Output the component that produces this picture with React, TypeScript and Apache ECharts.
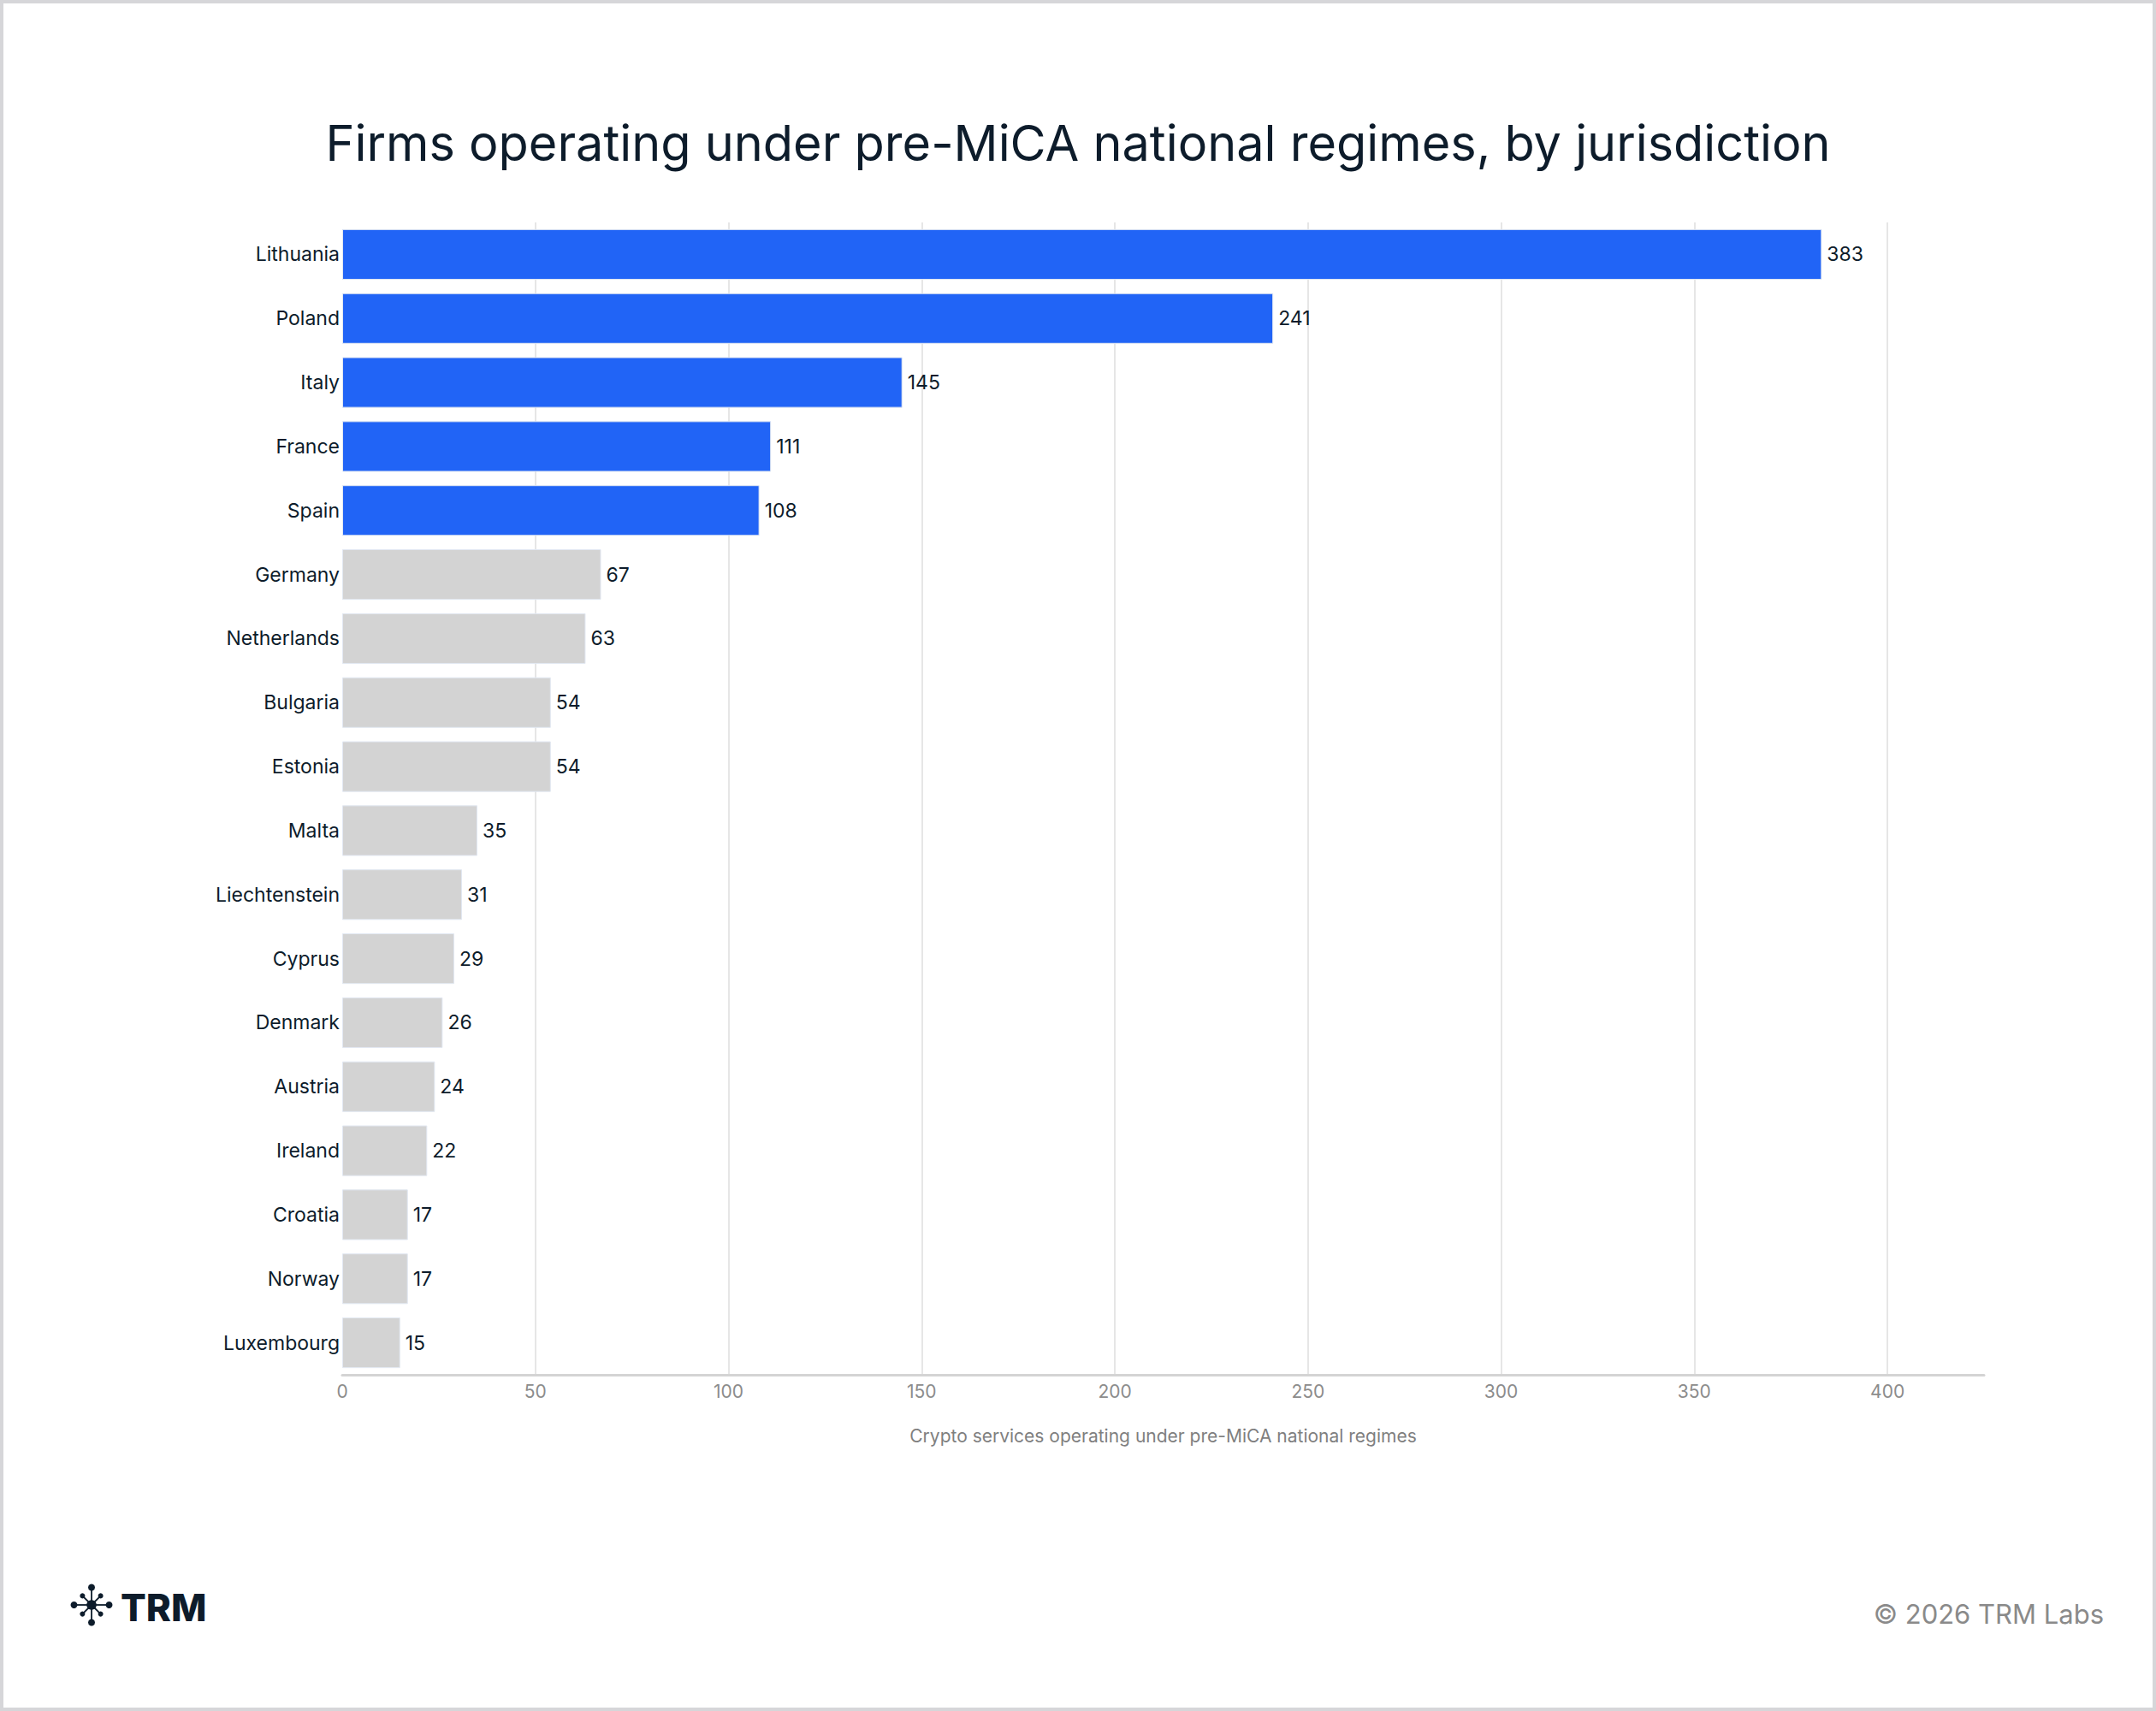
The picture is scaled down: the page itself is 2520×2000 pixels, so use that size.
import { useEffect, useRef } from "react";
import * as echarts from "echarts";

const countries = [
  "Lithuania", "Poland", "Italy", "France", "Spain", "Germany", "Netherlands",
  "Bulgaria", "Estonia", "Malta", "Liechtenstein", "Cyprus", "Denmark",
  "Austria", "Ireland", "Croatia", "Norway", "Luxembourg",
];
const firms = [383, 241, 145, 111, 108, 67, 63, 54, 54, 35, 31, 29, 26, 24, 22, 17, 17, 15];
const highlightCount = 5;

const BLUE = "#2164f6";
const GREY = "#d3d3d3";
const INK = "#0d1c2b";
const FONT = "Inter, 'Noto Sans', sans-serif";

// small TRM star mark next to the wordmark
const logoMark = (cx: number, cy: number) => {
  const children: any[] = [];
  [0, 45, 90, 135, 180, 225, 270, 315].forEach((deg) => {
    const a = (deg * Math.PI) / 180;
    const diag = deg % 90 !== 0;
    const r = diag ? 15 : 20.5;
    const ex = cx + Math.cos(a) * r;
    const ey = cy + Math.sin(a) * r;
    children.push({
      type: "line",
      shape: { x1: cx, y1: cy, x2: ex, y2: ey },
      style: { stroke: INK, lineWidth: 1.8 },
    });
    children.push({
      type: "circle",
      shape: { cx: ex, cy: ey, r: diag ? 3 : 4 },
      style: { fill: INK },
    });
  });
  children.push({ type: "circle", shape: { cx, cy, r: 5.8 }, style: { fill: INK } });
  return children;
};

const App = () => {
  const ref = useRef<HTMLDivElement | null>(null);

  useEffect(() => {
    document.body.style.margin = "0";
    if (!ref.current) return;
    const chart = echarts.init(ref.current, null, { renderer: "svg" });

    chart.setOption({
      animation: false,
      backgroundColor: "#ffffff",
      title: {
        text: "Firms operating under pre-MiCA national regimes, by jurisdiction",
        left: "center",
        top: 133,
        textStyle: { fontFamily: FONT, fontSize: 57.6, fontWeight: 400, color: INK },
      },
      grid: { left: 400, right: 201, top: 260, bottom: 393, containLabel: false },
      xAxis: {
        type: "value",
        min: 0,
        max: 425,
        interval: 50,
        name: "Crypto services operating under pre-MiCA national regimes",
        nameLocation: "middle",
        nameGap: 61,
        nameTextStyle: { fontFamily: FONT, fontSize: 21, color: "#7f7f7f" },
        axisLine: { show: true, lineStyle: { color: "#d4d4d4", width: 3 } },
        axisTick: { show: false },
        axisLabel: {
          showMaxLabel: false,
          margin: 9,
          fontFamily: FONT,
          fontSize: 21,
          color: "#8c8c8c",
        },
        splitLine: {
          show: true,
          showMinLine: false,
          showMaxLine: false,
          lineStyle: { color: "#e6e6e6", width: 2 },
        },
      },
      yAxis: {
        type: "category",
        data: countries,
        inverse: true,
        axisLine: { show: false },
        axisTick: { show: false },
        axisLabel: { margin: 3, fontFamily: FONT, fontSize: 23, color: INK },
      },
      series: [
        {
          type: "bar",
          barCategoryGap: "21%",
          data: firms.map((v, i) => ({
            value: v,
            itemStyle: { color: i < highlightCount ? BLUE : GREY },
          })),
          itemStyle: { borderColor: "#e2e8f2", borderWidth: 1 },
          label: {
            show: true,
            position: "right",
            distance: 6,
            fontFamily: FONT,
            fontSize: 23,
            color: INK,
          },
        },
      ],
      graphic: [
        {
          type: "rect",
          silent: true,
          shape: { x: 2, y: 2, width: 2516, height: 1996 },
          style: { fill: "none", stroke: "#d6d6d9", lineWidth: 4 },
        },
        ...logoMark(107, 1876),
        {
          type: "text",
          style: {
            x: 141,
            y: 1879,
            text: "TRM",
            fontFamily: FONT,
            fontSize: 44,
            fontWeight: 800,
            verticalAlign: "middle",
            fill: INK,
          },
        },
        {
          type: "text",
          style: {
            x: 2459,
            y: 1886,
            text: "© 2026 TRM Labs",
            fontFamily: FONT,
            fontSize: 31,
            align: "right",
            verticalAlign: "middle",
            fill: "#8a8a8a",
          },
        },
      ],
    });

    return () => chart.dispose();
  }, []);

  return <div ref={ref} style={{ width: 2520, height: 2000 }} />;
};

export default App;
